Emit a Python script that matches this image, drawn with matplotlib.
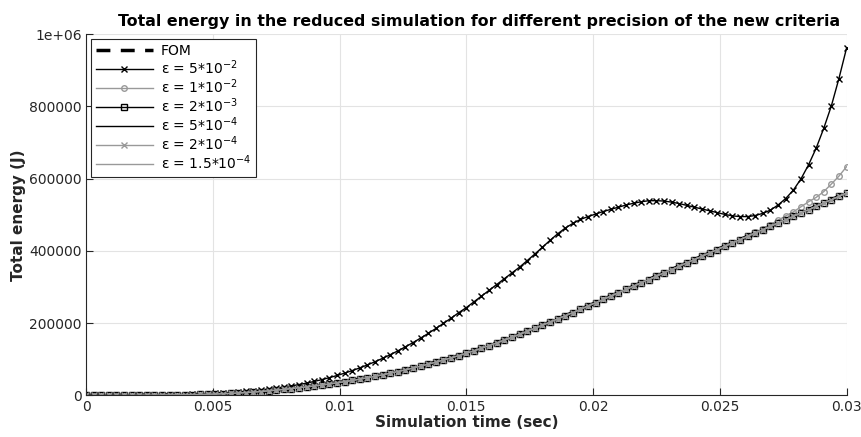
import numpy as np
import matplotlib
matplotlib.use('Agg')
import matplotlib.pyplot as plt

plt.rcParams['font.family'] = ['DejaVu Sans']
plt.rcParams['mathtext.default'] = 'regular'

# time steps (sec)
dt = 0.0003
n_steps = 101

# total energy, kJ, eps = 5*10^-2
e_5e2 = [0, 0.02, 0.05, 0.1, 0.17, 0.27, 0.4, 0.55, 0.75, 1.0, 1.3,
         1.7, 2.1, 2.6, 3.2, 3.9, 4.7, 5.7,
         6.9, 8.2, 9.7, 11.4, 13.3, 15.4, 17.7, 20.3,
         23.2, 26.5, 30.2, 34.3, 38.8, 43.8, 49.3, 55.3,
         61.8, 68.8, 76.4, 84.6, 93.4, 102.8, 112.8, 123.4, 134.6,
         146.4, 158.8, 171.8, 185.4, 199.5, 214, 229, 243,
         259, 275, 291, 307, 323, 339, 355, 373, 391, 410,
         429, 447, 463, 476, 487, 495, 502, 509, 515, 521,
         527, 532, 536, 539, 539, 538, 535, 531, 526, 521,
         516, 511, 506, 501, 497, 495, 495, 498, 504, 513,
         527, 545, 568, 599, 638, 684, 739, 801, 877, 961]

# FOM and the tight criteria (curves overlap)
e_fom = [0, 0.02, 0.06, 0.12, 0.2, 0.3, 0.42, 0.56, 0.72, 0.9, 1.1,
         1.35, 1.65, 2.0, 2.4, 2.85, 3.35, 4.0,
         4.8, 5.7, 6.8, 8.0, 9.4, 11.0, 12.8, 14.8,
         16.9, 19.1, 21.4, 23.8, 26.3, 28.9, 31.8, 35.0,
         38.2, 41.6, 45.2, 49.0, 53.0, 57.2, 61.6, 66.2, 71.0,
         76.0, 81.2, 86.6, 92.2, 98.0, 104.0, 110.2, 116.6,
         123.5, 130.6, 137.9, 145.4, 153.1, 161.0, 169.1, 177.4, 185.8, 194.3,
         202.9, 211.6, 220.4, 229.3, 238.3, 247.4, 256.5, 265.7, 274.9, 284.1,
         293.3, 302.5, 311.7, 320.9, 330.1, 339.3, 348.5, 357.7, 366.9, 376.1,
         385.3, 394.5, 403.7, 412.9, 422.1, 431.3, 440.5, 449.7, 458.9, 468.1,
         477.3, 486.5, 495.7, 504.9, 514.1, 523.3, 532.5, 541.7, 550.9, 560.1]

# eps = 1*10^-2 : same as FOM until ~0.0264 s, then drifts upward
e_1e2 = e_fom[:88] + [451, 461, 473, 485, 497, 508, 522, 536, 548, 564, 585, 607, 633]

t = np.arange(n_steps) * dt
E5e2 = np.array(e_5e2) * 1e3
Efom = np.array(e_fom) * 1e3
E1e2 = np.array(e_1e2) * 1e3

labels = ['FOM', r'ε = 5*10$^{-2}$', r'ε = 1*10$^{-2}$', r'ε = 2*10$^{-3}$',
          r'ε = 5*10$^{-4}$', r'ε = 2*10$^{-4}$', r'ε = 1.5*10$^{-4}$']

fig = plt.figure(figsize=(8.61, 4.37), dpi=100)
ax = fig.add_axes([0.0999, 0.095, 0.8833, 0.827])

gray = '#999999'
ax.plot(t, Efom, c='k', linestyle='--', lw=2.5, dashes=(4, 3), label=labels[0])
ax.plot(t, E5e2, c='k', lw=1, marker='x', ms=5, mew=1, label=labels[1])
ax.plot(t, E1e2, c=gray, lw=1, marker='o', ms=4, mfc='none', mew=1, label=labels[2])
ax.plot(t, Efom, c='k', lw=1, marker='s', ms=4, mfc='none', mew=1, label=labels[3])
ax.plot(t, Efom, c='k', lw=1, label=labels[4])
ax.plot(t, Efom, c=gray, lw=1, marker='x', ms=5, mew=1, label=labels[5])
ax.plot(t, Efom, c=gray, lw=1, label=labels[6])

ax.set_xlim(0, 0.03)
ax.set_ylim(0, 1e6)
ax.set_xticks(np.arange(0, 0.0301, 0.005))
ax.set_xticklabels(['0', '0.005', '0.01', '0.015', '0.02', '0.025', '0.03'])
ax.set_yticks(np.arange(0, 1000001, 200000))
ax.set_yticklabels(['0', '200000', '400000', '600000', '800000', '1e+06'])
ax.tick_params(direction='in', length=5, labelsize=10, colors='#262626', pad=3)
ax.grid(True, color='#e3e3e3', lw=0.8)
ax.set_axisbelow(True)
for s in ['top', 'right']:
    ax.spines[s].set_visible(False)
for s in ['left', 'bottom']:
    ax.spines[s].set_color('#262626')

ax.set_title('Total energy in the reduced simulation for different precision of the new criteria',
             fontsize=11.4, fontweight='bold', pad=6, x=0.517)
ax.set_xlabel('Simulation time (sec)', fontsize=11, fontweight='bold', color='#262626', labelpad=1)
ax.set_ylabel('Total energy (J)', fontsize=11, fontweight='bold', color='#262626', labelpad=2)

leg = ax.legend(loc='upper left', fontsize=10, handlelength=4.1, labelspacing=0.03,
                borderpad=0.35, handletextpad=0.6, fancybox=False, framealpha=1,
                borderaxespad=0.35)
leg.get_frame().set_edgecolor('#262626')
leg.get_frame().set_linewidth(0.8)

plt.savefig('out.png', dpi=100)
